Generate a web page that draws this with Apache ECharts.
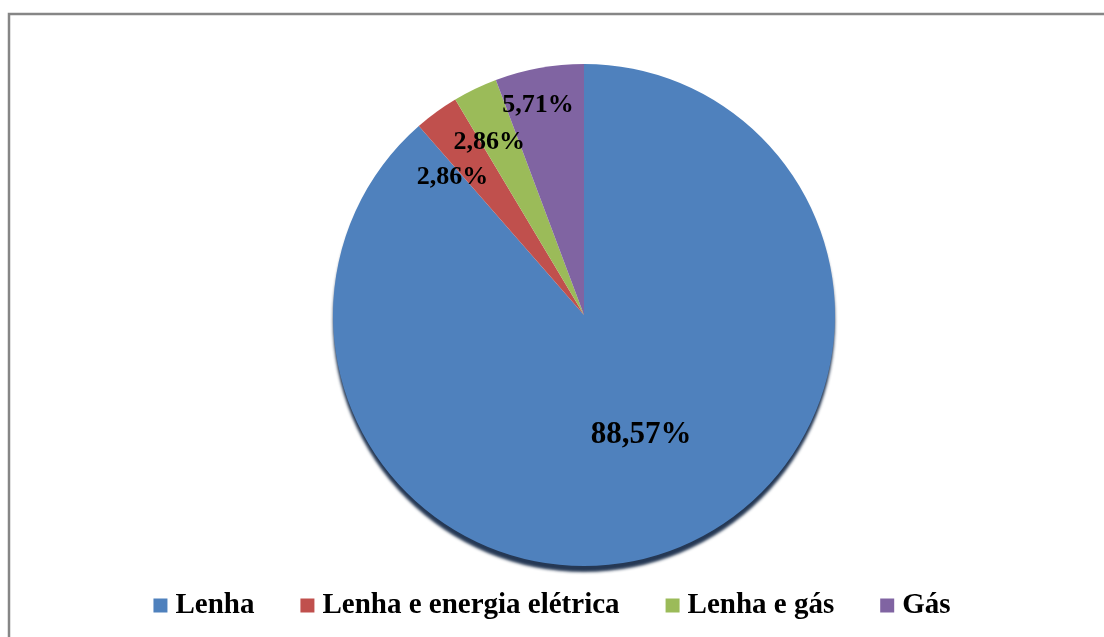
<!DOCTYPE html>
<html>
<head>
<meta charset="utf-8">
<script src="https://cdn.jsdelivr.net/npm/echarts@6/dist/echarts.min.js"></script>
<style>
html,body{margin:0;padding:0;background:#fff;}
#chart{width:1104px;height:637px;}
</style>
</head>
<body>
<div id="chart"></div>
<script>
const categories = ['Lenha', 'Lenha e energia elétrica', 'Lenha e gás', 'Gás'];
const values = [88.57, 2.86, 2.86, 5.71];
const valueLabels = ['88,57%', '2,86%', '2,86%', '5,71%'];
const colors = ['#4F81BD', '#C0504D', '#9BBB59', '#8064A2'];

const labelOffsets = [[12, 0], [-56, -34], [-39, -57], [-23, -83]];
const labelSizes = [31, 26, 26, 26];

const chart = echarts.init(document.getElementById('chart'));
const data = categories.map((c, i) => ({
  name: c,
  value: values[i],
  itemStyle: i === 0 ? {
    color: colors[i],
    shadowColor: 'rgba(25,45,75,0.95)',
    shadowOffsetY: 6,
    shadowOffsetX: 0,
    shadowBlur: 3
  } : { color: colors[i] },
  label: {
    offset: labelOffsets[i],
    fontSize: labelSizes[i]
  }
}));

chart.setOption({
  animation: false,
  backgroundColor: '#ffffff',
  graphic: [{
    type: 'rect',
    shape: { x: 9, y: 14, width: 1300, height: 800 },
    style: { fill: 'none', stroke: '#868686', lineWidth: 2.5 },
    z: -10
  }],
  legend: {
    bottom: 12,
    left: 'center',
    itemWidth: 14,
    itemHeight: 14,
    itemGap: 46,
    icon: 'rect',
    textStyle: {
      fontFamily: 'Liberation Serif',
      fontWeight: 'bold',
      fontSize: 29,
      color: '#000',
      padding: [0, 0, 0, 3]
    },
    data: categories
  },
  series: [{
    type: 'pie',
    center: [584, 315],
    radius: 251,
    startAngle: 90,
    clockwise: true,
    silent: true,
    data: data,
    label: {
      show: true,
      position: 'inside',
      formatter: p => valueLabels[p.dataIndex],
      fontFamily: 'Liberation Serif',
      fontWeight: 'bold',
      color: '#000'
    },
    labelLine: { show: false }
  }]
});
</script>
</body>
</html>
